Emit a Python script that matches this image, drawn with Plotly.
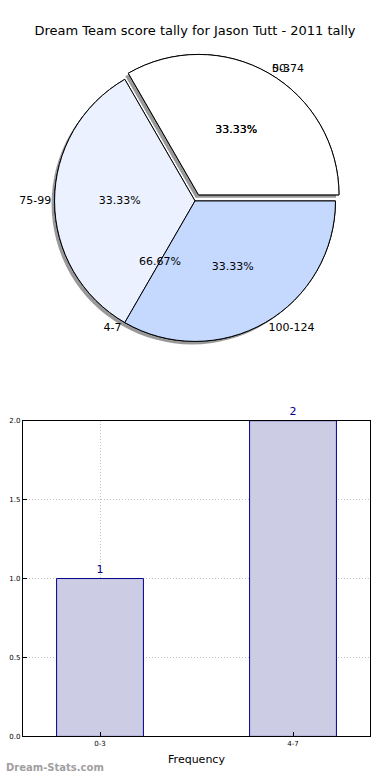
import plotly.graph_objects as go

title = "Dream Team score tally for Jason Tutt - 2011 tally"
score_labels = ["50-74", "75-99", "100-124"]
score_values = [1, 1, 1]
score_colors = ["#ffffff", "#ebf1ff", "#c5d9ff"]
score_pull = [0.05, 0, 0]

tally_labels = ["0-3", "4-7"]
tally_values = [1, 2]
tally_colors = ["#ffffff", "#ebf1ff"]
tally_pull = [0.05, 0]

y_ticks = [0.0, 0.5, 1.0, 1.5, 2.0]
y_tick_text = ["0.0", "0.5", "1.0", "1.5", "2.0"]

W, H = 390, 780
ROT = 330
cx, cy, half = 193, 199, 149
pie_dom = dict(x=[(cx - half) / W, (cx + half) / W], y=[1 - (cy + half) / H, 1 - (cy - half) / H])
sh = 3
shadow_dom = dict(x=[(cx - half - sh) / W, (cx + half - sh) / W], y=[1 - (cy + half + sh) / H, 1 - (cy - half + sh) / H])

fig = go.Figure()
font = "DejaVu Sans"
clear = "rgba(0,0,0,0)"

# shadow
fig.add_trace(go.Pie(labels=score_labels, values=score_values, pull=score_pull, sort=False,
                     direction="counterclockwise", rotation=ROT, domain=shadow_dom,
                     marker=dict(colors=["rgba(70,70,70,0.55)"] * 3, line=dict(width=0)),
                     textinfo="none", hoverinfo="skip", showlegend=False))
# tally pie underneath
fig.add_trace(go.Pie(labels=tally_labels, values=tally_values, pull=tally_pull, sort=False,
                     direction="counterclockwise", rotation=ROT, domain=pie_dom,
                     marker=dict(colors=tally_colors, line=dict(color="black", width=1)),
                     textinfo="none", showlegend=False))
# score pie
fig.add_trace(go.Pie(labels=score_labels, values=score_values, pull=score_pull, sort=False,
                     direction="counterclockwise", rotation=ROT, domain=pie_dom,
                     marker=dict(colors=score_colors, line=dict(color="black", width=1)),
                     texttemplate="%{percent:.2%}", textposition="inside", insidetextorientation="horizontal",
                     textfont=dict(family=font, size=11, color="black"), showlegend=False))
# tally percentages on top
fig.add_trace(go.Pie(labels=tally_labels, values=tally_values, pull=tally_pull, sort=False,
                     direction="counterclockwise", rotation=ROT, domain=pie_dom,
                     marker=dict(colors=[clear] * 2, line=dict(width=0)),
                     texttemplate="%{percent:.2%}", textposition="inside", insidetextorientation="horizontal",
                     textfont=dict(family=font, size=11, color="black"), hoverinfo="skip", showlegend=False))
# outside labels
for labs, vals, pull in [(score_labels, score_values, score_pull), (tally_labels, tally_values, tally_pull)]:
    fig.add_trace(go.Pie(labels=labs, values=vals, pull=pull, sort=False,
                         direction="counterclockwise", rotation=ROT, domain=pie_dom,
                         marker=dict(colors=[clear] * len(labs), line=dict(width=0)),
                         textinfo="label", textposition="outside", hoverinfo="skip",
                         outsidetextfont=dict(family=font, size=11, color="black"),
                         showlegend=False))

fig.add_trace(go.Bar(x=tally_labels, y=tally_values, width=0.45,
                     marker=dict(color="#ccccE5", line=dict(color="#00008b", width=1)),
                     text=[str(v) for v in tally_values], textposition="outside",
                     textfont=dict(family=font, size=11, color="#00008b"), cliponaxis=False,
                     xaxis="x", yaxis="y", showlegend=False))

grid = dict(showgrid=True, gridcolor="#c0c0c0", griddash="1px,2px", gridwidth=1,
            showline=True, linecolor="black", linewidth=1, mirror=True,
            ticks="inside", ticklen=4, tickcolor="black",
            tickfont=dict(family=font, size=7, color="black"))

fig.update_layout(
    width=W, height=H, margin=dict(l=0, r=0, t=0, b=0),
    paper_bgcolor="white", plot_bgcolor="white",
    font=dict(family=font, color="black"),
    title=dict(text=title, x=0.5, xanchor="center", y=1 - 30 / H, yanchor="middle",
               font=dict(family=font, size=13, color="black")),
    xaxis=dict(domain=[19 / W, 370 / W], anchor="y", range=[-0.4, 1.4],
               title=dict(text="Frequency", font=dict(family=font, size=11, color="black"), standoff=8),
               **grid),
    yaxis=dict(domain=[1 - 740 / H, 1 - 421 / H], anchor="x", range=[0, 2],
               tickvals=y_ticks, ticktext=y_tick_text, zeroline=False, **grid),
    annotations=[dict(text="<b>Dream-Stats.com</b>", x=0, y=1 - 771 / H, xref="paper", yref="paper",
                      xanchor="left", yanchor="middle", showarrow=False,
                      font=dict(family=font, size=10, color="#a0a0a0"))],
)

fig.write_html("out.html", config={"displayModeBar": False},
               post_script="document.body.style.margin='0';")
